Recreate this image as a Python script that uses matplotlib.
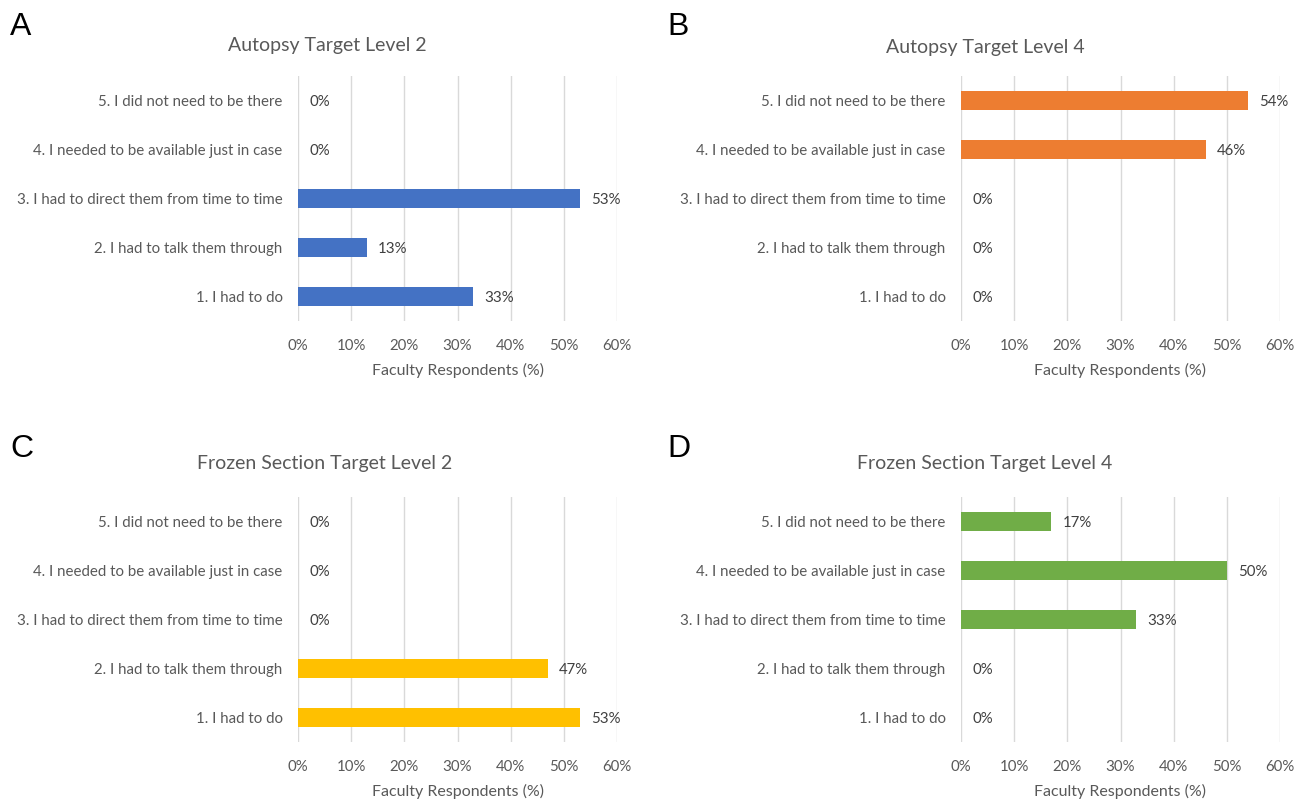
import matplotlib
matplotlib.use("Agg")
import matplotlib.pyplot as plt
from matplotlib.ticker import FuncFormatter

plt.rcParams['font.family'] = ['Lato', 'DejaVu Sans']

categories = ["1. I had to do",
              "2. I had to talk them through",
              "3. I had to direct them from time to time",
              "4. I needed to be available just in case",
              "5. I did not need to be there"]

autopsy_l2 = [33, 13, 53, 0, 0]
autopsy_l4 = [0, 0, 0, 46, 54]
frozen_l2 = [53, 47, 0, 0, 0]
frozen_l4 = [0, 0, 33, 50, 17]

titles = ["Autopsy Target Level 2", "Autopsy Target Level 4",
          "Frozen Section Target Level 2", "Frozen Section Target Level 4"]
letters = ["A", "B", "C", "D"]
colors = ["#4472C4", "#ED7D31", "#FFC000", "#70AD47"]
series = [autopsy_l2, autopsy_l4, frozen_l2, frozen_l4]
xticks = [0, 10, 20, 30, 40, 50, 60]

W, H = 1303, 799
fig = plt.figure(figsize=(W / 100, H / 100), dpi=100)

# axes positions in pixels: (left, top, right, bottom)
boxes = [(298, 76, 617, 321), (961, 76, 1280, 321),
         (298, 497, 617, 742), (961, 497, 1280, 742)]
title_pos = [(327, 45), (985, 47), (325, 463), (985, 463)]
letter_pos = [(10, 27), (667, 27), (10, 449), (667, 449)]

txt = "#595959"
for i in range(4):
    l, t, r, b = boxes[i]
    ax = fig.add_axes([l / W, 1 - b / H, (r - l) / W, (b - t) / H])
    vals = series[i]
    y = range(len(categories))
    ax.barh(y, vals, height=0.385, color=colors[i], zorder=3)
    for yy, v in zip(y, vals):
        ax.annotate(f"{v}%", (v, yy), xytext=(8, -1), textcoords="offset points",
                    va="center", ha="left", fontsize=10.8, color="#404040")
    ax.set_xlim(0, 60)
    ax.set_ylim(-0.5, len(categories) - 0.5)
    ax.set_xticks(xticks)
    ax.xaxis.set_major_formatter(FuncFormatter(lambda v, p: f"{int(v)}%"))
    ax.set_yticks(list(y))
    ax.set_yticklabels(categories)
    ax.tick_params(axis='both', length=0, labelsize=10.8, colors=txt)
    ax.tick_params(axis='y', pad=11)
    ax.tick_params(axis='x', pad=13)
    ax.grid(axis='x', color="#d9d9d9", linewidth=1, zorder=0)
    for s in ax.spines.values():
        s.set_visible(False)
    ax.set_xlabel("Faculty Respondents (%)", fontsize=11.5, color=txt, labelpad=7)
    fig.text(title_pos[i][0] / W, 1 - title_pos[i][1] / H, titles[i],
             ha="center", va="center", fontsize=14, color=txt)
    fig.text(letter_pos[i][0] / W, 1 - letter_pos[i][1] / H, letters[i],
             ha="left", va="center", fontsize=23, color="black",
             family=["Liberation Sans", "DejaVu Sans"])

fig.savefig("out.png", dpi=100, facecolor="white")
